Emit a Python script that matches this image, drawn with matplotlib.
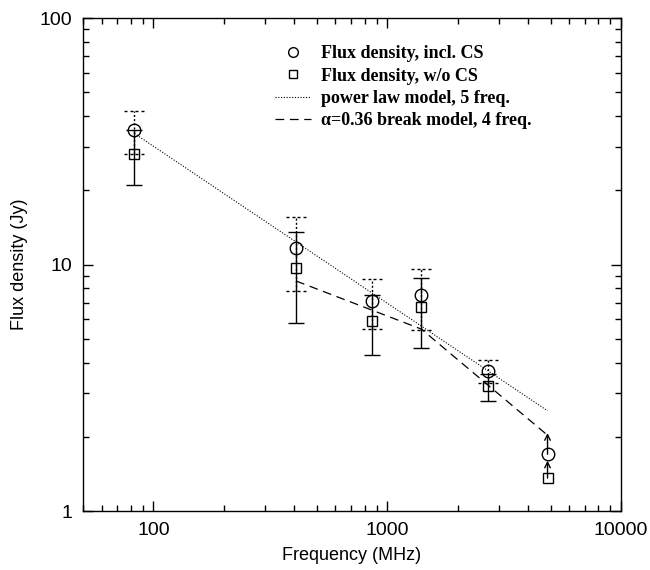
import matplotlib
matplotlib.use('Agg')
import matplotlib.pyplot as plt
from matplotlib.lines import Line2D
from matplotlib.path import Path
from matplotlib.markers import MarkerStyle
from matplotlib.legend_handler import HandlerLine2D
from matplotlib.ticker import LogLocator, NullFormatter, FixedLocator, FixedFormatter

# measured points (MHz, Jy)
freq = [83, 408, 865, 1400, 2700]
flux_cs = [35.0, 11.7, 7.1, 7.5, 3.7]
err_cs = [7.0, 3.9, 1.6, 2.1, 0.4]
flux_nocs = [28.0, 9.7, 5.9, 6.7, 3.2]
err_nocs = [7.0, 3.9, 1.6, 2.1, 0.4]

# 4850 MHz lower limits
lim_freq = 4850
lim_cs = 1.70
lim_cs_top = 2.07
lim_nocs = 1.36
lim_nocs_top = 1.60

# model lines
pl_freq = [83, 4850]
pl_flux = [34.0, 2.55]
brk_freq = [408, 1400, 4850]
brk_flux = [8.57, 5.47, 2.03]

legend_labels = ['Flux density, incl. CS', 'Flux density, w/o CS',
                 'power law model, 5 freq.', 'α=0.36 break model, 4 freq.']


class MarkerRight(HandlerLine2D):
    # put the single legend marker at the right end of the handle
    def get_xdata(self, legend, xdescent, ydescent, width, height, fontsize):
        xdata, _ = super().get_xdata(legend, xdescent, ydescent, width, height, fontsize)
        return xdata, [-xdescent + width - 0.25 * fontsize]


def dotted_cap():
    # horizontal cap made of short dashes
    segs = [(-1.0, -0.7), (-0.4, -0.1), (0.1, 0.4), (0.7, 1.0)]
    verts, codes = [], []
    for a, b in segs:
        verts += [(a, 0), (b, 0)]
        codes += [Path.MOVETO, Path.LINETO]
    return MarkerStyle(Path(verts, codes))


plt.rcParams['font.family'] = ['Liberation Sans', 'DejaVu Sans']

fig = plt.figure(figsize=(6.5, 5.7), dpi=100)
ax = fig.add_axes([0.1277, 0.1035, 0.8277, 0.8649])

# incl. CS: dotted error bars
eb = ax.errorbar(freq, flux_cs, yerr=err_cs, fmt='none', ecolor='k', elinewidth=1,
                 capsize=7, capthick=1)
for cap in eb[1]:
    cap.set_marker(dotted_cap())
    cap.set_markerfacecolor('none')
for bar in eb[2]:
    bar.set_linestyle((0, (1.5, 1.5)))
ax.plot(freq, flux_cs, 'o', ms=9, mfc='none', mec='k', mew=1)

# w/o CS: solid error bars
ax.errorbar(freq, flux_nocs, yerr=err_nocs, fmt='s', ms=7, mfc='none', mec='k', mew=1,
            ecolor='k', elinewidth=1, capsize=6, capthick=1)

# lower limits at 4850 MHz
ax.plot(lim_freq, lim_cs, 'o', ms=9, mfc='none', mec='k', mew=1)
ax.plot(lim_freq, lim_nocs, 's', ms=7, mfc='none', mec='k', mew=1)
ax.annotate('', xy=(lim_freq, lim_cs_top), xytext=(lim_freq, lim_cs),
            arrowprops=dict(arrowstyle='->', lw=1, color='k', shrinkA=0, shrinkB=0))
ax.annotate('', xy=(lim_freq, lim_nocs_top), xytext=(lim_freq, lim_nocs),
            arrowprops=dict(arrowstyle='->', lw=1, color='k', shrinkA=0, shrinkB=0))

ax.plot(pl_freq, pl_flux, color='k', lw=0.8, ls=(0, (1, 1.5)))
ax.plot(brk_freq, brk_flux, color='k', lw=0.9, ls=(0, (7, 4.5)))

ax.set_xscale('log')
ax.set_yscale('log')
ax.set_xlim(50, 10000)
ax.set_ylim(1, 100)

ax.xaxis.set_major_locator(FixedLocator([100, 1000, 10000]))
ax.xaxis.set_major_formatter(FixedFormatter(['100', '1000', '10000']))
ax.yaxis.set_major_locator(FixedLocator([1, 10, 100]))
ax.yaxis.set_major_formatter(FixedFormatter(['1', '10', '100']))
ax.xaxis.set_minor_locator(LogLocator(base=10, subs=range(2, 10)))
ax.yaxis.set_minor_locator(LogLocator(base=10, subs=range(2, 10)))
ax.xaxis.set_minor_formatter(NullFormatter())
ax.yaxis.set_minor_formatter(NullFormatter())
ax.tick_params(which='both', direction='in', top=True, right=True, width=1, labelsize=14)
ax.tick_params(which='major', length=7, pad=8)
ax.tick_params(which='minor', length=4)
for s in ax.spines.values():
    s.set_linewidth(1)

ax.set_xlabel('Frequency (MHz)', fontsize=13, labelpad=6)
ax.set_ylabel('Flux density (Jy)', fontsize=13, labelpad=8)

handles = [Line2D([], [], marker='o', ms=7, mfc='none', mec='k', ls='none'),
           Line2D([], [], marker='s', ms=6, mfc='none', mec='k', ls='none'),
           Line2D([], [], color='k', lw=0.8, ls=(0, (1, 1.5))),
           Line2D([], [], color='k', lw=0.9, ls=(0, (7, 4.5)))]
ax.legend(handles, legend_labels, loc='upper left', bbox_to_anchor=(0.356, 0.945),
          frameon=False, borderpad=0, borderaxespad=0, handlelength=2.0,
          handletextpad=0.6, labelspacing=0.3,
          handler_map={handles[0]: MarkerRight(), handles[1]: MarkerRight()},
          prop={'family': 'Liberation Serif', 'weight': 'bold', 'size': 13})

fig.savefig('out.png', dpi=100)
